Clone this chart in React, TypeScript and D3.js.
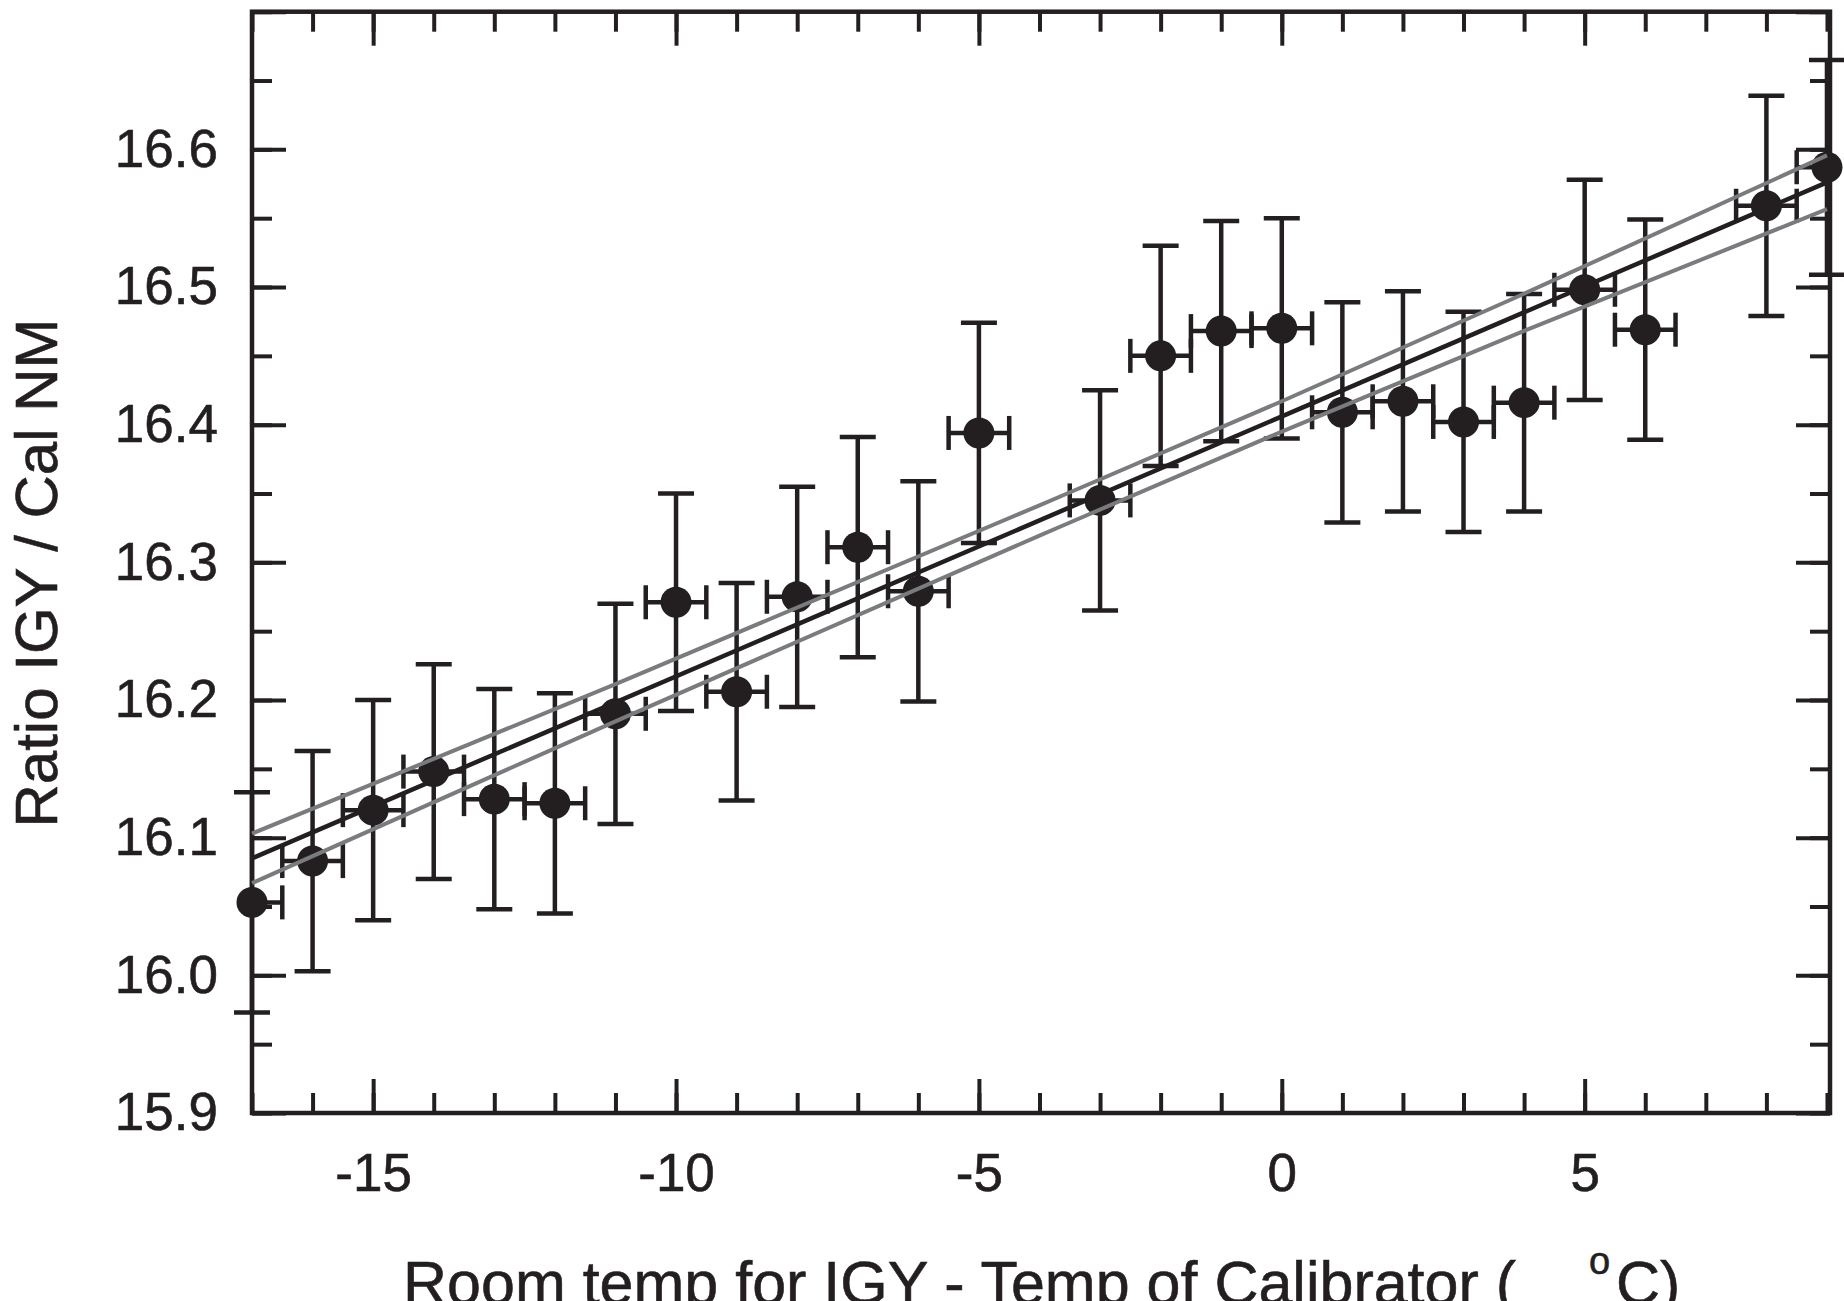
import React, { useEffect, useRef } from 'react'
import * as d3 from 'd3'

// room temp difference (deg C) for each measurement
const tempDiff = [-17, -16, -15, -14, -13, -12, -11, -10, -9, -8, -7, -6, -5, -3, -2, -1, 0, 1, 2, 3, 4, 5, 6, 8, 9]
// ratio IGY / Cal NM
const ratio = [16.053, 16.083, 16.120, 16.148, 16.128, 16.125, 16.190, 16.271, 16.206, 16.275, 16.311, 16.279, 16.394,
    16.345, 16.450, 16.468, 16.470, 16.409, 16.417, 16.402, 16.416, 16.498, 16.469, 16.559, 16.587]
const ratioErr = [0.080, 0.080, 0.080, 0.078, 0.080, 0.080, 0.080, 0.079, 0.079, 0.080, 0.080, 0.080, 0.080,
    0.080, 0.080, 0.080, 0.080, 0.080, 0.080, 0.080, 0.079, 0.080, 0.080, 0.080, 0.078]
const tempErr = 0.5

// fitted line and its confidence band
const fitX = [-17, 9]
const fitY = [16.085, 16.576]
const bandX = [-17, -11, -4, 0, 4, 9]
const bandUpper = [16.103, 16.2115, 16.3414, 16.417, 16.4951, 16.5956]
const bandLower = [16.067, 16.1845, 16.3194, 16.395, 16.4681, 16.5566]

const xTickLabels = [-15, -10, -5, 0, 5]
const yTickLabels = [15.9, 16.0, 16.1, 16.2, 16.3, 16.4, 16.5, 16.6]

const INK = '#231f20'
const GRAY = '#7a7b7e'
const FONT = "'Liberation Sans', Arial, Helvetica, sans-serif"

export default function App() {
    const svgRef = useRef(null)

    useEffect(() => {
        const width = 1844
        const height = 1301
        const left = 252, right = 1830, top = 11.7, bottom = 1113

        const svg = d3.select(svgRef.current)
            .attr('width', width)
            .attr('height', height)
        svg.selectAll('*').remove()

        const x = d3.scaleLinear().domain([-17, 9.05]).range([left, right])
        const y = d3.scaleLinear().domain([15.9, 16.7]).range([bottom, top])

        const xMinor = d3.range(-17, 10, 1)
        const xMajor = xMinor.filter(d => d % 5 === 0)
        const yMinor = d3.range(0, 17).map(i => 15.9 + i * 0.05)
        const yMajor = d3.range(0, 9).map(i => 15.9 + i * 0.1)

        const styleAxis = (g) => {
            g.select('.domain').remove()
            g.selectAll('line').attr('stroke', INK).attr('stroke-width', 4)
            g.selectAll('text')
                .attr('fill', INK)
                .attr('stroke', INK)
                .attr('stroke-width', 0.6)
                .attr('font-family', FONT)
                .attr('font-size', 53)
        }

        // bottom
        svg.append('g').attr('transform', `translate(0,${bottom})`)
            .call(d3.axisBottom(x).tickValues(xMinor).tickSize(-20).tickSizeOuter(0).tickFormat(() => ''))
            .call(styleAxis)
        svg.append('g').attr('transform', `translate(0,${bottom})`)
            .call(d3.axisBottom(x).tickValues(xMajor).tickSize(-34).tickSizeOuter(0).tickFormat(() => ''))
            .call(styleAxis)
        svg.append('g').attr('transform', `translate(0,${bottom})`)
            .call(d3.axisBottom(x).tickValues(xTickLabels).tickSize(0).tickSizeOuter(0).tickPadding(40).tickFormat(d => String(d)))
            .call(styleAxis)
        // top
        svg.append('g').attr('transform', `translate(0,${top})`)
            .call(d3.axisTop(x).tickValues(xMinor).tickSize(-20).tickSizeOuter(0).tickFormat(() => ''))
            .call(styleAxis)
        svg.append('g').attr('transform', `translate(0,${top})`)
            .call(d3.axisTop(x).tickValues(xMajor).tickSize(-34).tickSizeOuter(0).tickFormat(() => ''))
            .call(styleAxis)
        // left
        svg.append('g').attr('transform', `translate(${left},0)`)
            .call(d3.axisLeft(y).tickValues(yMinor).tickSize(-20).tickSizeOuter(0).tickFormat(() => ''))
            .call(styleAxis)
        svg.append('g').attr('transform', `translate(${left},0)`)
            .call(d3.axisLeft(y).tickValues(yMajor).tickSize(-34).tickSizeOuter(0).tickFormat(() => ''))
            .call(styleAxis)
        svg.append('g').attr('transform', `translate(${left},0)`)
            .call(d3.axisLeft(y).tickValues(yTickLabels).tickSize(0).tickSizeOuter(0).tickPadding(34).tickFormat(d3.format('.1f')))
            .call(styleAxis)
        // right
        svg.append('g').attr('transform', `translate(${right},0)`)
            .call(d3.axisRight(y).tickValues(yMinor).tickSize(-20).tickSizeOuter(0).tickFormat(() => ''))
            .call(styleAxis)
        svg.append('g').attr('transform', `translate(${right},0)`)
            .call(d3.axisRight(y).tickValues(yMajor).tickSize(-34).tickSizeOuter(0).tickFormat(() => ''))
            .call(styleAxis)

        // frame
        svg.append('rect')
            .attr('x', left).attr('y', top)
            .attr('width', right - left).attr('height', bottom - top)
            .attr('fill', 'none').attr('stroke', INK).attr('stroke-width', 4.5)

        const points = tempDiff.map((t, i) => ({ t, r: ratio[i], e: ratioErr[i] }))

        svg.append('clipPath').attr('id', 'plotClip')
            .append('rect').attr('x', left).attr('y', top)
            .attr('width', right - left).attr('height', bottom - top)

        const bars = svg.append('g').attr('stroke', INK).attr('stroke-width', 4.5)

        // vertical error bars
        bars.selectAll('.vbar').data(points).enter().append('line')
            .attr('x1', d => x(d.t)).attr('x2', d => x(d.t))
            .attr('y1', d => y(d.r - d.e)).attr('y2', d => y(d.r + d.e))
        bars.selectAll('.capTop').data(points).enter().append('line')
            .attr('x1', d => x(d.t) - 18).attr('x2', d => x(d.t) + 18)
            .attr('y1', d => y(d.r + d.e)).attr('y2', d => y(d.r + d.e))
        bars.selectAll('.capBot').data(points).enter().append('line')
            .attr('x1', d => x(d.t) - 18).attr('x2', d => x(d.t) + 18)
            .attr('y1', d => y(d.r - d.e)).attr('y2', d => y(d.r - d.e))

        // horizontal error bars (clipped at the frame)
        const hbars = bars.append('g').attr('clip-path', 'url(#plotClip)')
        hbars.selectAll('.hbar').data(points).enter().append('line')
            .attr('x1', d => x(d.t - tempErr)).attr('x2', d => x(d.t + tempErr))
            .attr('y1', d => y(d.r)).attr('y2', d => y(d.r))
        hbars.selectAll('.capL').data(points).enter().append('line')
            .attr('x1', d => x(d.t - tempErr)).attr('x2', d => x(d.t - tempErr))
            .attr('y1', d => y(d.r) - 17).attr('y2', d => y(d.r) + 17)
        hbars.selectAll('.capR').data(points).enter().append('line')
            .attr('x1', d => x(d.t + tempErr)).attr('x2', d => x(d.t + tempErr))
            .attr('y1', d => y(d.r) - 17).attr('y2', d => y(d.r) + 17)

        // markers
        svg.append('g').selectAll('circle').data(points).enter().append('circle')
            .attr('cx', d => x(d.t)).attr('cy', d => y(d.r))
            .attr('r', 15.5)
            .attr('fill', INK)

        // fit line and confidence band
        const fitLine = d3.line().x(d => x(d[0])).y(d => y(d[1]))
        const bandLine = d3.line().x(d => x(d[0])).y(d => y(d[1])).curve(d3.curveMonotoneX)

        svg.append('path')
            .attr('d', fitLine(fitX.map((v, i) => [v, fitY[i]])))
            .attr('fill', 'none').attr('stroke', INK).attr('stroke-width', 4.5)
        svg.append('path')
            .attr('d', bandLine(bandX.map((v, i) => [v, bandUpper[i]])))
            .attr('fill', 'none').attr('stroke', GRAY).attr('stroke-width', 4)
        svg.append('path')
            .attr('d', bandLine(bandX.map((v, i) => [v, bandLower[i]])))
            .attr('fill', 'none').attr('stroke', GRAY).attr('stroke-width', 4)

        // axis titles
        svg.append('text')
            .attr('transform', 'translate(57,573) rotate(-90)')
            .attr('text-anchor', 'middle')
            .attr('font-family', FONT).attr('font-size', 60)
            .attr('fill', INK).attr('stroke', INK).attr('stroke-width', 0.6)
            .text('Ratio IGY / Cal NM')

        const xTitle = svg.append('text')
            .attr('x', 403).attr('y', 1304)
            .attr('font-family', FONT).attr('font-size', 61)
            .attr('fill', INK).attr('stroke', INK).attr('stroke-width', 0.6)
        xTitle.append('tspan').text('Room temp for IGY - Temp of Calibrator (')
        xTitle.append('tspan').attr('x', 1589).attr('dy', -30).attr('font-size', 38).text('o')
        xTitle.append('tspan').attr('x', 1616).attr('dy', 30).text('C)')
    }, [])

    return (
        <div style={{ position: 'absolute', left: 0, top: 0, background: '#fff' }}>
            <svg ref={svgRef} style={{ display: 'block' }}></svg>
        </div>
    )
}
